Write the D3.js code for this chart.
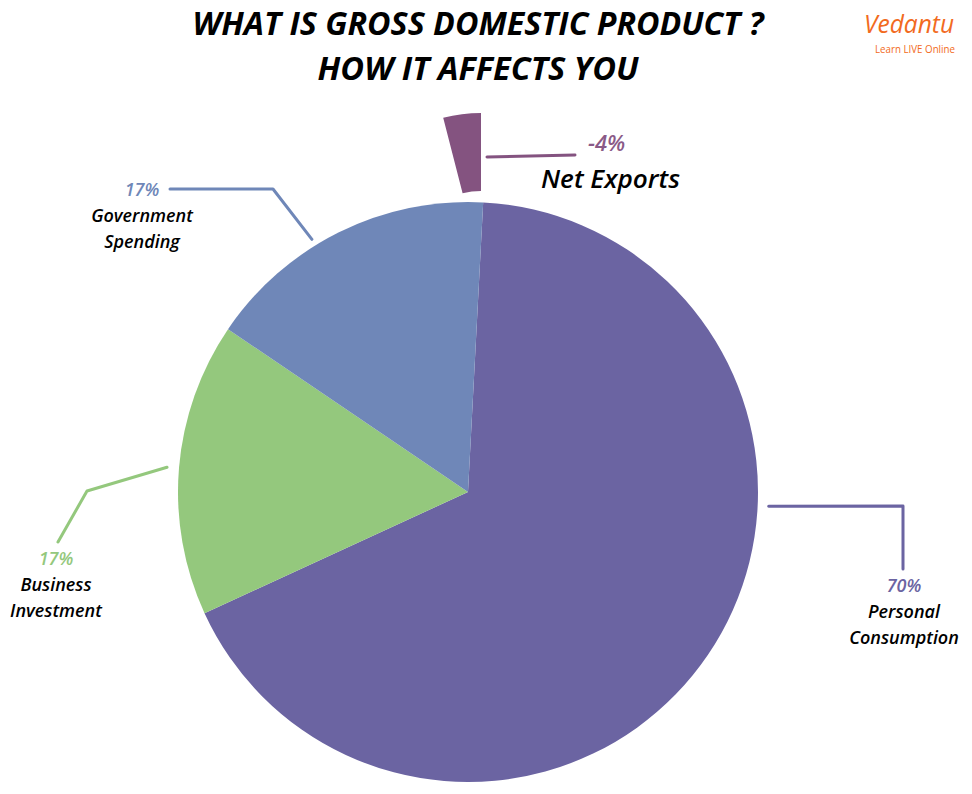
<!DOCTYPE html>
<html>
<head>
<meta charset="utf-8">
<script src="https://cdn.jsdelivr.net/npm/d3@7"></script>
<style>
  html, body { margin: 0; padding: 0; background: #fff; }
  svg { display: block; }
  text { font-family: "Open Sans", "Noto Sans", sans-serif; }
</style>
</head>
<body>
<svg id="chart"></svg>
<script>
// chart data
const categories = ["Personal Consumption", "Business Investment", "Government Spending"];
const shares = [70, 17, 17];
const shareLabels = ["70%", "17%", "17%"];
const sliceColors = ["#6b64a2", "#94c87d", "#6f87b8"];
const netLabel = "Net Exports";
const netValue = -4;
const netColor = "#845380";
const titleLines = ["WHAT IS GROSS DOMESTIC PRODUCT ?", "HOW IT AFFECTS YOU"];

const width = 972, height = 794;
const svg = d3.select("#chart").attr("width", width).attr("height", height);

// title
const titleWidths = [571, 321];
svg.selectAll("text.title")
    .data(titleLines)
    .enter().append("text")
    .attr("class", "title")
    .attr("x", 478)
    .attr("y", (d, i) => 35 + i * 45)
    .attr("text-anchor", "middle")
    .attr("font-size", 32)
    .attr("font-weight", 700)
    .attr("font-style", "italic")
    .attr("textLength", (d, i) => titleWidths[i])
    .attr("lengthAdjust", "spacingAndGlyphs")
    .attr("fill", "#000")
    .text(d => d);

// logo
svg.append("text")
    .attr("x", 864).attr("y", 33)
    .attr("font-size", 26)
    .attr("font-style", "italic")
    .attr("textLength", 90)
    .attr("lengthAdjust", "spacingAndGlyphs")
    .attr("fill", "#f26a21")
    .text("Vedantu");
svg.append("text")
    .attr("x", 875).attr("y", 53)
    .attr("font-size", 10)
    .attr("textLength", 80)
    .attr("lengthAdjust", "spacingAndGlyphs")
    .attr("fill", "#f26a21")
    .text("Learn LIVE Online");

// main pie
const cx = 468, cy = 492, radius = 290;
const startAngle = 3 * Math.PI / 180;
const pie = d3.pie().sort(null)
    .startAngle(startAngle)
    .endAngle(startAngle + 2 * Math.PI);
const arc = d3.arc().innerRadius(0).outerRadius(radius);

const g = svg.append("g").attr("transform", `translate(${cx},${cy})`);
const arcs = pie(shares);
g.selectAll("path.slice")
    .data(arcs)
    .enter().append("path")
    .attr("class", "slice")
    .attr("d", arc)
    .attr("fill", (d, i) => sliceColors[i]);

// net exports wedge, pulled out above the pie
const pct = d3.scaleLinear().domain([0, 100]).range([0, 2 * Math.PI]);
const netArc = d3.arc().innerRadius(74).outerRadius(152);
svg.append("path")
    .attr("transform", "translate(481,265)")
    .attr("d", netArc({ startAngle: pct(netValue), endAngle: 0 }))
    .attr("fill", netColor);

svg.append("line")
    .attr("x1", 487).attr("y1", 157)
    .attr("x2", 575).attr("y2", 155)
    .attr("stroke", netColor)
    .attr("stroke-width", 3)
    .attr("stroke-linecap", "round");
svg.append("text")
    .attr("x", 588).attr("y", 151)
    .attr("font-size", 22)
    .attr("font-weight", 600)
    .attr("font-style", "italic")
    .attr("fill", "#8a5a87")
    .text(netValue + "%");
svg.append("text")
    .attr("x", 541).attr("y", 188)
    .attr("font-size", 26)
    .attr("font-weight", 600)
    .attr("font-style", "italic")
    .attr("textLength", 139)
    .attr("lengthAdjust", "spacingAndGlyphs")
    .attr("fill", "#000")
    .text(netLabel);

// label layout: leader anchor (angle/radius from centre), elbow, end, text
const labelLayout = [
    { deg: 92.7, r: 301, pts: [[903, 506], [903, 569]], tx: 904, ty: 592 },
    { deg: 274.7, r: 302, pts: [[87, 491], [58, 542]], tx: 56, ty: 565 },
    { deg: 328.3, r: 297, pts: [[273, 189], [170, 189]], tx: 142, ty: 196 }
];

const line = d3.line();
labelLayout.forEach((L, i) => {
    const a = d3.pointRadial(L.deg * Math.PI / 180, L.r);
    const pts = [[cx + a[0], cy + a[1]]].concat(L.pts);
    svg.append("path")
        .attr("d", line(pts))
        .attr("fill", "none")
        .attr("stroke", sliceColors[i])
        .attr("stroke-width", 3)
        .attr("stroke-linejoin", "round")
        .attr("stroke-linecap", "round");

    svg.append("text")
        .attr("x", L.tx).attr("y", L.ty)
        .attr("text-anchor", "middle")
        .attr("font-size", 18)
        .attr("font-weight", 600)
        .attr("font-style", "italic")
        .attr("fill", sliceColors[i])
        .text(shareLabels[i]);

    const words = categories[i].split(" ");
    svg.selectAll(null)
        .data(words)
        .enter().append("text")
        .attr("x", L.tx)
        .attr("y", (d, j) => L.ty + 26 + j * 26)
        .attr("text-anchor", "middle")
        .attr("font-size", 18)
        .attr("font-weight", 600)
        .attr("font-style", "italic")
        .attr("fill", "#000")
        .text(d => d);
});
</script>
</body>
</html>
